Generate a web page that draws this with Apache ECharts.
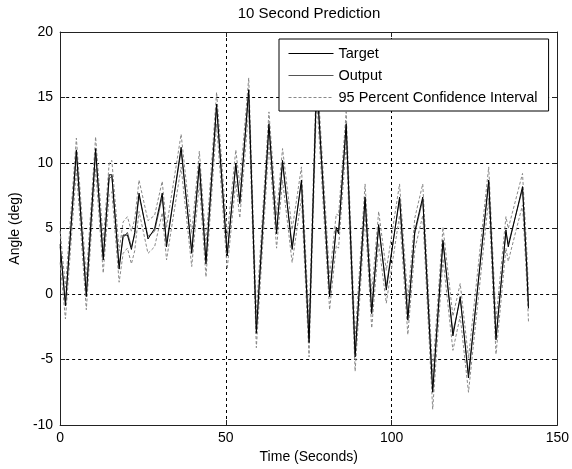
<!DOCTYPE html>
<html>
<head>
<meta charset="utf-8">
<script src="https://cdn.jsdelivr.net/npm/echarts@6/dist/echarts.min.js"></script>
<style>html,body{margin:0;padding:0;background:#fff}#c{width:572px;height:469px}</style>
</head>
<body>
<div id="c"></div>
<script>
var time = [0,1.6,4.9,7.9,10.7,13.0,14.8,15.6,17.8,19.0,20.3,21.5,22.5,23.8,26.5,28.5,30.8,32.1,36.5,39.7,42.0,44.0,47.2,50.4,53.0,54.2,56.9,59.2,63.0,65.3,67.1,70.0,72.8,75.1,77.4,81.3,83.3,84.0,86.3,89.0,92.0,94.0,96.1,98.4,102.4,104.9,107.0,109.4,112.4,115.5,118.5,120.7,123.2,129.3,131.5,134.5,135.2,139.5,140.8,141.3];
var target = [3.8,-0.9,11.0,-0.2,11.1,2.6,9.1,9.1,1.9,4.5,4.5,3.4,4.7,7.7,4.2,5.0,7.7,3.6,11.2,3.1,10.0,2.3,14.5,2.9,10.0,6.9,15.6,-3.0,13.0,4.6,10.2,3.4,8.7,-3.7,16.5,-0.2,5.1,4.6,13.0,-4.8,7.4,-1.5,5.3,0.3,7.4,-2.0,4.8,7.4,-7.5,4.1,-3.2,-0.2,-6.4,8.7,-3.5,4.9,3.6,8.2,1.9,-1.1];
var output = [3.6,-0.6,10.7,0.1,10.8,2.9,8.8,9.0,2.2,4.3,4.7,3.6,4.5,7.5,4.4,4.8,7.4,3.9,10.9,3.4,9.7,2.6,14.2,3.2,9.8,7.1,15.3,-2.7,12.7,4.8,9.9,3.7,8.5,-3.4,16.2,0.1,4.9,4.8,12.7,-4.5,7.2,-1.2,5.1,0.6,7.2,-1.7,4.6,7.2,-7.2,3.9,-2.9,-0.4,-6.1,8.5,-3.2,4.7,3.8,8.0,2.1,-0.9];
var ciUpper = [4.8,0.5,11.9,1.2,12.0,4.0,10.0,10.2,3.3,5.5,5.9,4.8,5.7,8.7,5.6,6.0,8.6,5.1,12.2,4.6,10.9,3.8,15.4,4.4,11.0,8.3,16.5,-1.5,13.9,6.0,11.1,4.9,9.7,-2.2,17.4,1.3,6.1,6.0,13.9,-3.3,8.4,0.0,6.3,1.8,8.4,-0.5,5.8,8.4,-6.0,5.1,-1.7,0.8,-4.9,9.7,-2.0,5.9,5.0,9.2,3.3,0.3];
var ciLower = [2.4,-1.9,9.5,-1.2,9.6,1.6,7.6,7.8,0.9,3.1,3.5,2.3,3.3,6.3,3.1,3.6,6.2,2.6,9.7,2.1,8.5,1.3,13.0,1.9,8.6,5.8,14.1,-4.1,11.5,3.5,8.7,2.4,7.3,-4.8,15.0,-1.2,3.7,3.5,11.5,-5.9,6.0,-2.6,3.9,-0.7,6.0,-3.1,3.4,6.0,-8.8,2.7,-4.3,-1.7,-7.5,7.3,-4.6,3.5,2.5,6.8,0.8,-2.1];
var xTicks = [0,50,100,150];
var yTicks = [-10,-5,0,5,10,15,20];

function pairs(v){ return time.map(function(t,i){ return [t, v[i]]; }); }
var FONT = '"Liberation Sans", Arial, sans-serif';
var CI = '95 Percent Confidence Interval';
var HIDE = {opacity: 0, color: 'rgba(0,0,0,0)', borderWidth: 0};

var chart = echarts.init(document.getElementById('c'), null, {renderer:'canvas'});
chart.setOption({
  animation: false,
  backgroundColor: '#fff',
  color: ['#888', '#888', '#555', '#000'],
  title: {
    text: '10 Second Prediction',
    left: 309, top: 6, padding: 0, textAlign: 'center',
    textStyle: {fontFamily: FONT, fontSize: 15, fontWeight: 'normal', color: '#000'}
  },
  legend: {
    orient: 'vertical',
    left: 279, top: 39,
    padding: [7, 11, 6, 9],
    itemWidth: 45, itemHeight: 14, itemGap: 7,
    backgroundColor: '#fff', borderColor: '#000', borderWidth: 1, borderRadius: 0,
    textStyle: {fontFamily: FONT, fontSize: 14.5, color: '#000'},
    data: [
      {name: 'Target', itemStyle: HIDE, lineStyle: {color: '#000', width: 1}},
      {name: 'Output', itemStyle: HIDE, lineStyle: {color: '#555', width: 1}},
      {name: CI, itemStyle: HIDE, lineStyle: {color: '#888', width: 1, type: [3,2]}}
    ],
    z: 20
  },
  grid: {left: 60, right: 14, top: 32, bottom: 44},
  xAxis: [{
    type: 'value', min: xTicks[0], max: xTicks[xTicks.length-1], interval: 50,
    name: 'Time (Seconds)', nameLocation: 'middle', nameGap: 24,
    nameTextStyle: {fontFamily: FONT, fontSize: 14, color: '#000'},
    axisLine: {show: true, onZero: false, lineStyle: {color: '#222', width: 1}},
    axisTick: {show: true, inside: true, length: 5, lineStyle: {color: '#222'}},
    axisLabel: {fontFamily: FONT, fontSize: 14, color: '#000', margin: 6},
    splitLine: {show: true, lineStyle: {color: '#000', width: 1, type: [3,3]}}
  }, {
    type: 'value', position: 'top', min: 0, max: 150, interval: 50,
    axisLine: {show: true, onZero: false, lineStyle: {color: '#222', width: 1}},
    axisTick: {show: true, inside: true, length: 5, lineStyle: {color: '#222'}},
    axisLabel: {show: false}, splitLine: {show: false}
  }],
  yAxis: [{
    type: 'value', min: yTicks[0], max: yTicks[yTicks.length-1], interval: 5,
    name: 'Angle (deg)', nameLocation: 'middle', nameGap: 34,
    nameTextStyle: {fontFamily: FONT, fontSize: 14, color: '#000'},
    axisLine: {show: true, onZero: false, lineStyle: {color: '#222', width: 1}},
    axisTick: {show: true, inside: true, length: 5, lineStyle: {color: '#222'}},
    axisLabel: {fontFamily: FONT, fontSize: 14, color: '#000', margin: 7},
    splitLine: {show: true, lineStyle: {color: '#000', width: 1, type: [3,3]}}
  }, {
    type: 'value', position: 'right', min: -10, max: 20, interval: 5,
    axisLine: {show: true, onZero: false, lineStyle: {color: '#222', width: 1}},
    axisTick: {show: true, inside: true, length: 5, lineStyle: {color: '#222'}},
    axisLabel: {show: false}, splitLine: {show: false}
  }],
  series: [
    {name: CI, type: 'line', data: pairs(ciUpper), symbol: 'none', color: '#888', lineStyle: {color: '#888', width: 1, type: [3,2]}, z: 2},
    {name: CI, type: 'line', data: pairs(ciLower), symbol: 'none', color: '#888', lineStyle: {color: '#888', width: 1, type: [3,2]}, z: 2},
    {name: 'Output', type: 'line', data: pairs(output), symbol: 'none', color: '#555', lineStyle: {color: '#555', width: 1}, z: 3},
    {name: 'Target', type: 'line', data: pairs(target), symbol: 'none', color: '#000', lineStyle: {color: '#000', width: 1}, z: 4}
  ]
});
</script>
</body>
</html>
